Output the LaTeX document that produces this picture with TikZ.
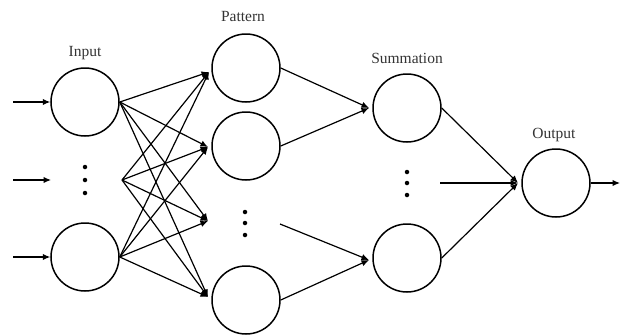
\documentclass[tikz,border=0pt]{standalone}
\usepackage{fontspec}
\setmainfont{Liberation Serif}
\usetikzlibrary{arrows.meta}
\begin{document}
\begin{tikzpicture}[x=1pt,y=-1pt,
  neuron/.style={circle,draw,line width=1.5pt,minimum size=68pt,inner sep=0pt},
  link/.style={line width=1.2pt,-{Latex[length=7.5pt,width=6.5pt]}},
  layerlabel/.style={font=\fontsize{15.5}{16}\selectfont,text=black!80},
  vdots/.style={fill,circle,inner sep=0pt,minimum size=4.5pt}]
\useasboundingbox (0,0) rectangle (621,335);

% input layer
\node[neuron] (in1) at (85,102) {};
\node[neuron] (in2) at (85,257) {};
\foreach \y/\n in {167/a,180/b,193/c} \node[vdots] (id\n) at (85,\y) {};
\node[layerlabel] (lin) at (85,53) {Input};
\coordinate (x1) at (13,102);
\coordinate (x2) at (13,180);
\coordinate (x3) at (13,257);
\coordinate (x2e) at (51,180);
\coordinate (im) at (122,180);
\draw[link] (x1) -- (in1.west);
\draw[link] (x2) -- (x2e);
\draw[link] (x3) -- (in2.west);

% pattern layer
\node[neuron] (p1) at (246,68) {};
\node[neuron] (p2) at (246,146) {};
\node[neuron] (p4) at (246,300) {};
\foreach \y/\n in {212/a,223/b,235/c} \node[vdots] (pd\n) at (245,\y) {};
\node[layerlabel] (lpat) at (243,16) {Pattern};
\coordinate (t1) at (209,72);
\coordinate (t2) at (208,147);
\coordinate (t3) at (208,221);
\coordinate (t4) at (208,297);
\coordinate (pm) at (280,224);

% fully connected input -> pattern
\foreach \s in {in1.east,im,in2.east}
  \foreach \t in {t1,t2,t3,t4}
    \draw[link] (\s) -- (\t);

% summation layer
\node[neuron] (s1) at (407,108) {};
\node[neuron] (s2) at (407,258) {};
\foreach \y/\n in {172/a,183/b,195/c} \node[vdots] (sd\n) at (407,\y) {};
\node[layerlabel] (lsum) at (407,58) {Summation};
\coordinate (u1) at (369,108);
\coordinate (u2) at (369,260);
\coordinate (sm) at (440,183);

\draw[link] (p1.east) -- (u1);
\draw[link] (p2.east) -- (u1);
\draw[link] (pm) -- (u2);
\draw[link] (p4.east) -- (u2);

% output layer
\node[neuron] (o) at (556,183) {};
\node[layerlabel] (lout) at (554,135) {Output};
\coordinate (v) at (518,183);
\coordinate (oe) at (620,183);

\draw[link] (s1.east) -- (v);
\draw[link] (sm) -- (v);
\draw[link] (s2.east) -- (v);
\draw[link] (o.east) -- (oe);
\end{tikzpicture}
\end{document}
